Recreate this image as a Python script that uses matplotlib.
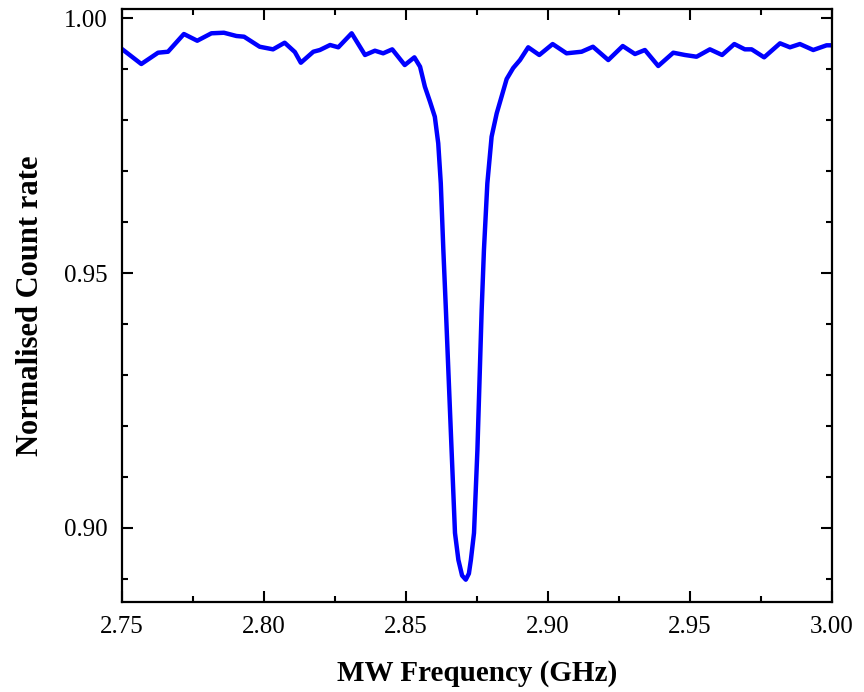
import matplotlib
matplotlib.use('Agg')
import numpy as np
from matplotlib import pyplot as plt
from matplotlib.ticker import MultipleLocator

# MW frequency (GHz)
freq = [2.7500, 2.7568, 2.7627, 2.7662, 2.7718, 2.7765, 2.7815, 2.7859, 2.7903, 2.7930,
        2.7985, 2.8032, 2.8073, 2.8109, 2.8130, 2.8174, 2.8197, 2.8233, 2.8262, 2.8309,
        2.8356, 2.8391, 2.8420, 2.8452, 2.8496, 2.8530, 2.8550, 2.8567, 2.8585, 2.8602,
        2.8614, 2.8623, 2.8632, 2.8641, 2.8661, 2.8673, 2.8685, 2.8698, 2.8711, 2.8722,
        2.8729, 2.8740, 2.8752, 2.8767, 2.8775, 2.8787, 2.8802, 2.8820, 2.8837, 2.8855,
        2.8878, 2.8902, 2.8931, 2.8970, 2.9017, 2.9066, 2.9119, 2.9159, 2.9213, 2.9264,
        2.9307, 2.9342, 2.9389, 2.9442, 2.9483, 2.9524, 2.9571, 2.9614, 2.9657, 2.9694,
        2.9718, 2.9762, 2.9818, 2.9853, 2.9888, 2.9935, 2.9982, 3.0000]

# normalised count rate
counts = [0.99397, 0.99103, 0.99325, 0.99344, 0.99692, 0.99560, 0.99706, 0.99717, 0.99653, 0.99639,
          0.99442, 0.99391, 0.99521, 0.99338, 0.99128, 0.99344, 0.99378, 0.99476, 0.99431, 0.99706,
          0.99280, 0.99364, 0.99313, 0.99391, 0.99083, 0.99234, 0.99050, 0.98657, 0.98363, 0.98068,
          0.97546, 0.96761, 0.95451, 0.94274, 0.91525, 0.89896, 0.89366, 0.89061, 0.88979, 0.89099,
          0.89366, 0.89896, 0.91525, 0.94274, 0.95451, 0.96761, 0.97676, 0.98135, 0.98461, 0.98808,
          0.99024, 0.99181, 0.99431, 0.99280, 0.99495, 0.99313, 0.99344, 0.99442, 0.99181, 0.99456,
          0.99299, 0.99378, 0.99064, 0.99325, 0.99280, 0.99246, 0.99391, 0.99280, 0.99495, 0.99391,
          0.99391, 0.99234, 0.99509, 0.99431, 0.99495, 0.99378, 0.99470, 0.99470]

plt.rcParams['font.family'] = ['Liberation Serif', 'DejaVu Serif']

fig = plt.figure(figsize=(8.64, 6.92), dpi=100)
ax = fig.add_axes([0.1412, 0.1305, 0.8214, 0.8565])

ax.plot(freq, counts, color='#0000ff', lw=3.2, solid_joinstyle='round', solid_capstyle='round')

ax.set_xlim(2.75, 3.00)
ax.set_ylim(0.88547, 1.00183)

ax.xaxis.set_major_locator(MultipleLocator(0.05))
ax.xaxis.set_minor_locator(MultipleLocator(0.025))
ax.yaxis.set_major_locator(MultipleLocator(0.05))
ax.yaxis.set_minor_locator(MultipleLocator(0.01))
ax.xaxis.set_major_formatter(plt.FormatStrFormatter('%.2f'))
ax.yaxis.set_major_formatter(plt.FormatStrFormatter('%.2f'))

ax.tick_params(which='both', direction='in', top=True, right=True, width=1.5)
ax.tick_params(which='major', length=8, labelsize=18, pad=10)
ax.tick_params(which='minor', length=4)
for s in ax.spines.values():
    s.set_linewidth(1.6)

ax.set_xlabel('MW Frequency (GHz)', fontsize=21, fontweight='bold', labelpad=16)
ax.set_ylabel('Normalised Count rate', fontsize=22, fontweight='bold', labelpad=14)

fig.savefig('out.png', dpi=100)
